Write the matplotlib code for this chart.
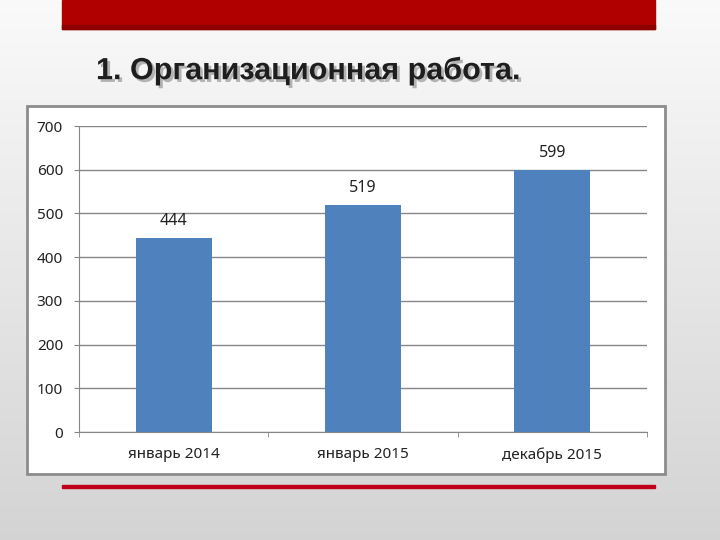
import numpy as np
import matplotlib
matplotlib.use("Agg")
import matplotlib.pyplot as plt
from matplotlib.patches import Rectangle
import matplotlib.patheffects as pe

categories = ["январь 2014", "январь 2015", "декабрь 2015"]
values = [444, 519, 599]
yticks = [0, 100, 200, 300, 400, 500, 600, 700]
title = "1. Организационная работа."

W, H = 720, 540
fig = plt.figure(figsize=(W / 100, H / 100), dpi=100)


def box(x0, y0, x1, y1):
    # pixel box (top-left origin) -> figure fraction rect
    return [x0 / W, 1 - y1 / H, (x1 - x0) / W, (y1 - y0) / H]


# slide background, light grey gradient
bg = fig.add_axes([0, 0, 1, 1], zorder=-10)
grad = np.linspace(0.98, 0.83, 256).reshape(-1, 1)
bg.imshow(np.dstack([grad, grad, grad]), aspect="auto", extent=[0, W, H, 0])
bg.set_xlim(0, W)
bg.set_ylim(H, 0)
bg.axis("off")

# red header bar and bottom rule
bg.add_patch(Rectangle((62, 0), 593, 29, color="#b00000", zorder=2))
bg.add_patch(Rectangle((62, 25), 593, 4, color="#8e0000", zorder=3))
bg.add_patch(Rectangle((62, 485), 593, 2.5, color="#c0001a", zorder=2))

# chart frame
bg.add_patch(Rectangle((27, 106), 638, 368, facecolor="white",
                       edgecolor="#8c8c8c", linewidth=2, zorder=2))

bg.text(96, 71, title, fontsize=22, fontweight="bold", color="#1e1e1e",
        family=["Liberation Sans", "DejaVu Sans"],
        va="center", ha="left", zorder=4,
        path_effects=[pe.withSimplePatchShadow(offset=(2, -2), shadow_rgbFace="#888888", alpha=0.6)])

font = ["Noto Sans", "DejaVu Sans"]

ax = fig.add_axes(box(79, 126, 647, 432))
x = np.arange(len(categories))
ax.bar(x, values, width=0.4, color="#4f81bd", zorder=3)
ax.set_xlim(-0.5, len(categories) - 0.5)
ax.set_ylim(0, 700)
ax.set_yticks(yticks)
ax.set_yticklabels([str(t) for t in yticks], family=font, fontsize=11, color="#222222")
ax.set_xticks(x)
ax.set_xticklabels(categories, family=font, fontsize=11, color="#222222")
ax.tick_params(axis="x", length=0, pad=11)
ax.tick_params(axis="y", length=3.5, color="#868686", pad=8)
ax.set_xticks(np.arange(len(categories) + 1) - 0.5, minor=True)
ax.tick_params(axis="x", which="minor", length=3.5, color="#868686")
ax.yaxis.grid(True, color="#868686", linewidth=1, zorder=0)
ax.set_axisbelow(True)
for s in ["top", "right"]:
    ax.spines[s].set_visible(False)
for s in ["left", "bottom"]:
    ax.spines[s].set_color("#868686")

for xi, v in zip(x, values):
    ax.text(xi, v + 20, str(v), ha="center", va="bottom", family=font,
            fontsize=11.5, color="#222222", zorder=4)

fig.savefig("out.png", dpi=100)
